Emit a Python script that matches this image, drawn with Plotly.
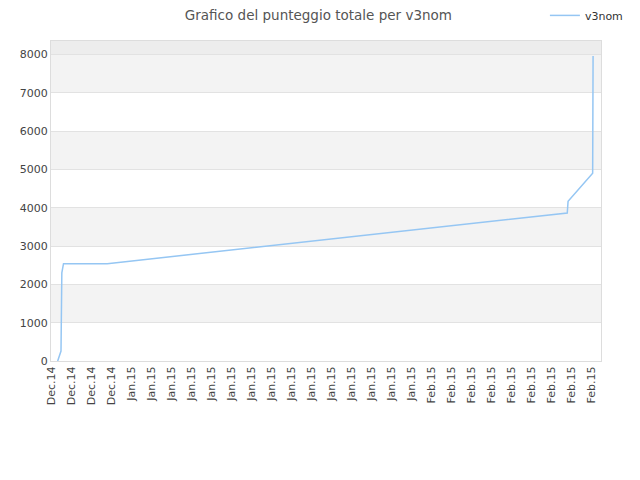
import plotly.graph_objects as go

# punteggio totale nel tempo
timestamps = [
    "2014-12-25 16:00", "2014-12-25 21:00", "2014-12-26 00:00",
    "2014-12-26 02:00", "2014-12-26 06:00", "2014-12-30 15:00",
    "2015-02-14 15:00", "2015-02-14 17:00", "2015-02-17 04:00",
    "2015-02-17 05:00",
]
scores = [0, 150, 260, 2300, 2540, 2540, 3860, 4170, 4900, 7960]

series_name = "v3nom"
y_ticks = [0, 1000, 2000, 3000, 4000, 5000, 6000, 7000, 8000]
band_ranges = [(1000, 2000), (3000, 4000), (5000, 6000), (7000, 8000)]

fig = go.Figure()
fig.add_trace(go.Scatter(
    x=timestamps,
    y=scores,
    mode="lines",
    name=series_name,
    line=dict(color="#95c6f3", width=1.5),
))

# bande alternate dello sfondo
shapes = []
for lo, hi in band_ranges:
    shapes.append(dict(
        type="rect", xref="paper", yref="y", x0=0, x1=1, y0=lo, y1=hi,
        fillcolor="#f3f3f3", line_width=0, layer="below",
    ))
shapes.append(dict(
    type="rect", xref="paper", yref="y", x0=0, x1=1, y0=8000, y1=8350,
    fillcolor="#ededed", line_width=0, layer="below",
))

fig.update_layout(
    width=640,
    height=480,
    margin=dict(l=43, r=47, t=33, b=127, autoexpand=False),
    paper_bgcolor="white",
    plot_bgcolor="white",
    font=dict(family="DejaVu Sans", size=11, color="#444"),
    title=dict(
        text="Grafico del punteggio totale per v3nom",
        x=0.485, xanchor="center", y=0.985, yanchor="middle",
        font=dict(size=13.5, color="#555"),
    ),
    showlegend=True,
    legend=dict(
        x=0.898, xanchor="left", y=1.08, yanchor="middle",
        bgcolor="rgba(0,0,0,0)", font=dict(size=11, color="#333"),
        itemwidth=30,
    ),
    shapes=shapes,
)

fig.update_xaxes(
    type="date",
    range=["2014-12-25 00:00", "2015-02-18 00:00"],
    tick0="2014-12-25",
    dtick=2 * 86400000,
    tickformat="%b.%y",
    tickangle=-90,
    showgrid=False,
    showline=True, linecolor="#dddddd", mirror=True,
    ticks="", zeroline=False, automargin=False,
    tickfont=dict(size=11, color="#444"),
)
fig.update_yaxes(
    range=[0, 8350],
    tickvals=y_ticks,
    showgrid=True, gridcolor="#e2e2e2",
    showline=True, linecolor="#dddddd", mirror=True,
    ticks="", zeroline=False, automargin=False,
    tickfont=dict(size=11, color="#444"),
)

fig.write_html("out.html")
